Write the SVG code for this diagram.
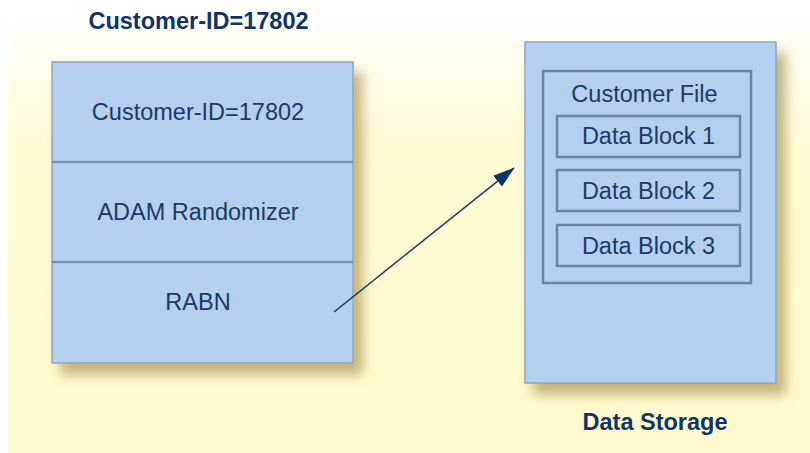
<svg xmlns="http://www.w3.org/2000/svg" width="810" height="453" viewBox="0 0 810 453">
<defs>
<linearGradient id="bg" x1="0" y1="0" x2="0" y2="1">
<stop offset="0" stop-color="#ffffff"/>
<stop offset="0.3" stop-color="#fffbd6"/>
<stop offset="1" stop-color="#fffacd"/>
</linearGradient>
<filter id="sh" x="-10%" y="-10%" width="130%" height="130%">
<feGaussianBlur in="SourceAlpha" stdDeviation="6"/>
<feOffset dx="9" dy="11" result="b"/>
<feFlood flood-color="#9c8440" flood-opacity="0.6"/>
<feComposite in2="b" operator="in"/>
<feMerge><feMergeNode/><feMergeNode in="SourceGraphic"/></feMerge>
</filter>
<marker id="ah" viewBox="0 0 22 14" refX="21" refY="7" markerWidth="22" markerHeight="14" orient="auto" markerUnits="userSpaceOnUse">
<path d="M0,0 L22,7 L0,14 z" fill="#0f3366"/>
</marker>
<style>
.box{fill:#b5cfee;stroke:#8fa6c4;stroke-width:1.5}
.in{fill:none;stroke:#6d84a6;stroke-width:2.5}
.t{font-family:"Liberation Sans",Arial,sans-serif;font-size:23.5px;fill:#1c3a66;text-anchor:middle}
.h{font-family:"Liberation Sans",Arial,sans-serif;font-size:23.5px;font-weight:bold;fill:#113466;text-anchor:middle}
</style>
</defs>
<rect x="8" y="8" width="802" height="445" fill="url(#bg)"/>
<g id="title"><text class="h" x="198.5" y="29">Customer-ID=17802</text></g>
<g id="customer-box">
<rect class="box" x="52" y="62" width="301" height="301" filter="url(#sh)"/>
<line x1="52" y1="162" x2="353" y2="162" stroke="#7d93b3" stroke-width="2.5"/>
<line x1="52" y1="262" x2="353" y2="262" stroke="#7d93b3" stroke-width="2.5"/>
<text class="t" x="198" y="120">Customer-ID=17802</text>
<text class="t" x="198" y="220">ADAM Randomizer</text>
<text class="t" x="198" y="310">RABN</text>
</g>
<g id="data-storage">
<rect class="box" x="525" y="42" width="251" height="341" filter="url(#sh)"/>
<rect class="in" x="543" y="71" width="208" height="212"/>
<text class="t" x="644.5" y="102">Customer File</text>
<rect class="in" x="557" y="116" width="183" height="41"/>
<text class="t" x="648.5" y="144">Data Block 1</text>
<rect class="in" x="557" y="170" width="183" height="41"/>
<text class="t" x="648.5" y="199">Data Block 2</text>
<rect class="in" x="557" y="225" width="183" height="41"/>
<text class="t" x="648.5" y="254">Data Block 3</text>
</g>
<g id="label-storage"><text class="h" x="655" y="430">Data Storage</text></g>
<g id="connectors">
<line x1="334" y1="312" x2="514" y2="168" stroke="#1c3a66" stroke-width="1.5" marker-end="url(#ah)"/>
</g>
</svg>
